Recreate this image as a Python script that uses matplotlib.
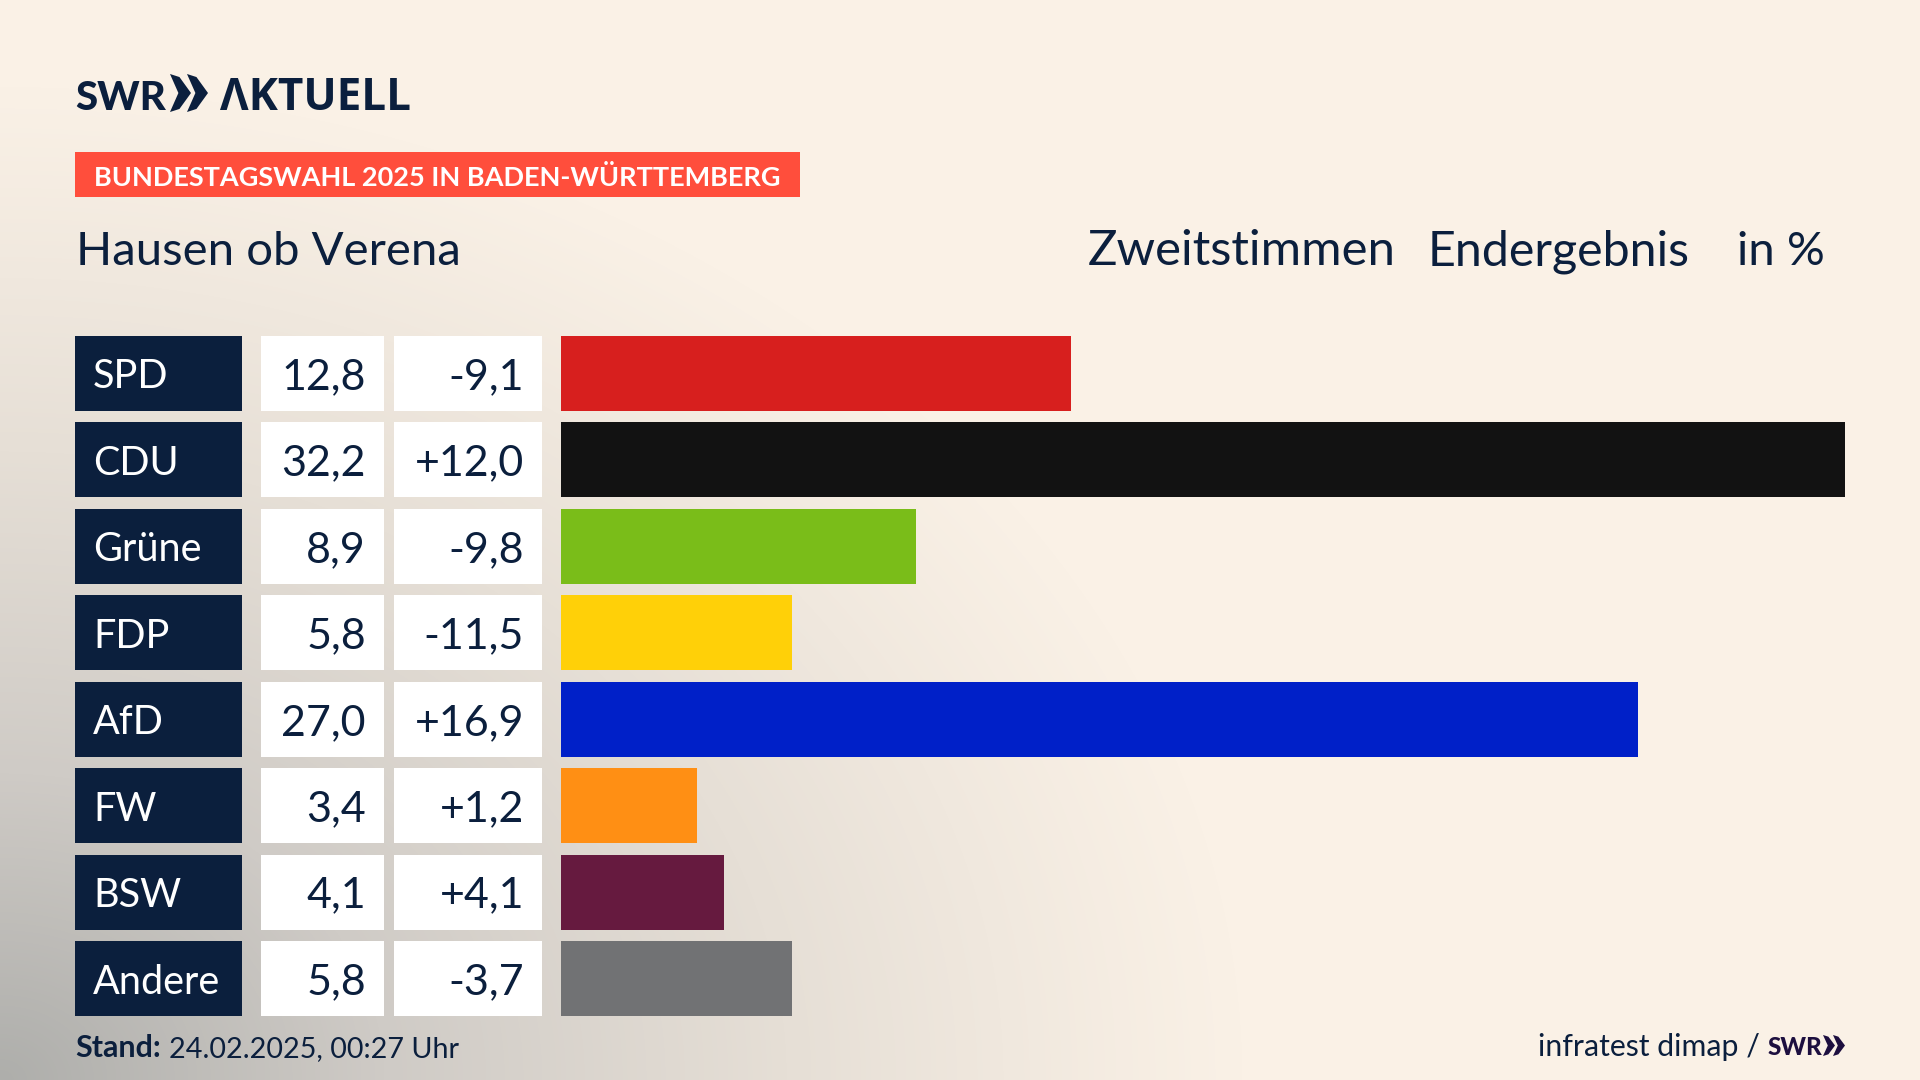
import numpy as np
import matplotlib
matplotlib.use('Agg')
import matplotlib.pyplot as plt
from matplotlib.colors import LinearSegmentedColormap
from matplotlib.patches import Polygon, Rectangle

plt.rcParams['font.family'] = ['Lato', 'DejaVu Sans']

parties = ['SPD', 'CDU', 'Grüne', 'FDP', 'AfD', 'FW', 'BSW', 'Andere']
shares = [12.8, 32.2, 8.9, 5.8, 27.0, 3.4, 4.1, 5.8]
changes = [-9.1, 12.0, -9.8, -11.5, 16.9, 1.2, 4.1, -3.7]
colors = ['#d71f1e', '#121212', '#7abd19', '#ffd008', '#0020c8', '#ff8f14', '#661a3f', '#717274']

NAVY = '#0b1f3d'
LOGO = ['Open Sans', 'DejaVu Sans']
W, H = 1920, 1080


def fmt(val, signed=False):
    s = ('%+.1f' if signed else '%.1f') % val
    return s.replace('.', ',')


def chevrons(ax, x, top, bottom, width, step, color):
    # the two arrows of the SWR logo
    mid = (top + bottom) / 2
    for k in range(2):
        x0 = x + k * step
        ax.add_patch(Polygon([(x0, top), (x0 + 0.45 * width, top + 0.08 * (bottom - top)), (x0 + width, mid),
                              (x0 + 0.45 * width, bottom - 0.08 * (bottom - top)), (x0, bottom),
                              (x0 + 0.4 * width, mid)], color=color, lw=0))


fig = plt.figure(figsize=(19.2, 10.8), dpi=100)

# background, cream with a grey corner at the lower left
bg = fig.add_axes([0, 0, 1, 1])
yy, xx = np.mgrid[0:H, 0:W]
dist = np.sqrt((xx / 1250.0) ** 2 + ((H - yy) / 1000.0) ** 2)
shade = np.clip(1 - dist, 0, 1) ** 1.1
cmap = LinearSegmentedColormap.from_list('bg', ['#faf1e6', '#e6dfd6', '#cfcbc6', '#aeaeab'])
bg.imshow(shade, cmap=cmap, vmin=0, vmax=1, extent=(0, W, H, 0), aspect='auto')
bg.set_xlim(0, W)
bg.set_ylim(H, 0)
bg.axis('off')

# logo
bg.text(75, 110, 'SWR', fontsize=29, fontweight='black', color=NAVY, va='baseline', ha='left')
chevrons(bg, 170, 74, 112, 21, 17, NAVY)
bg.text(220, 110, 'ΛKTUELL', fontsize=31.7, fontweight='bold', color=NAVY, va='baseline', ha='left', family=LOGO)

# banner and headers
bg.add_patch(Rectangle((75, 152), 725, 45, color='#ff4e3c', lw=0))
bg.text(94, 175, 'BUNDESTAGSWAHL 2025 IN BADEN-WÜRTTEMBERG', fontsize=19.5, fontweight='bold',
        color='white', va='center_baseline', ha='left')
bg.text(76, 265, 'Hausen ob Verena', fontsize=34, color=NAVY, va='baseline', ha='left')
bg.text(1088, 265, 'Zweitstimmen', fontsize=35.4, color=NAVY, va='baseline', ha='left')
bg.text(1428, 265, 'Endergebnis', fontsize=34.8, color=NAVY, va='baseline', ha='left')
bg.text(1825, 265, 'in %', fontsize=34, color=NAVY, va='baseline', ha='right')

# table on the left, same rows as the bars
rows = np.arange(len(parties))
bar_h = 75 / 86.43
ylim = (rows[-1] + bar_h / 2, -bar_h / 2)
tab = fig.add_axes([0, (H - 1016) / H, 561 / W, 680 / H])
tab.set_xlim(0, 561)
tab.set_ylim(*ylim)
tab.axis('off')
tab.barh(rows, [167.5] * 8, left=75, height=bar_h, color=NAVY)
tab.barh(rows, [123] * 8, left=261, height=bar_h, color='white')
tab.barh(rows, [148] * 8, left=394, height=bar_h, color='white')
for i in rows:
    tab.text(93, i, parties[i], fontsize=28.5, color='white', va='center_baseline', ha='left')
    tab.text(366, i, fmt(shares[i]), fontsize=31, color=NAVY, va='center_baseline', ha='right')
    tab.text(524, i, fmt(changes[i], True), fontsize=31, color=NAVY, va='center_baseline', ha='right')

# bars
ax = fig.add_axes([561 / W, (H - 1016) / H, (1845 - 561) / W, 680 / H])
ax.barh(rows, shares, height=bar_h, color=colors)
ax.set_xlim(0, 32.2)
ax.set_ylim(*ylim)
ax.axis('off')

# footer
bg.text(75, 1057, 'Stand:', fontsize=22, fontweight='bold', color=NAVY, va='baseline', ha='left')
bg.text(169, 1057, '24.02.2025, 00:27 Uhr', fontsize=20.7, color=NAVY, va='baseline', ha='left')
bg.text(1760, 1056, 'infratest dimap /', fontsize=21.8, color=NAVY, va='baseline', ha='right')
bg.text(1768, 1055, 'SWR', fontsize=17.5, fontweight='black', color='#1d0f3f', va='baseline', ha='left')
chevrons(bg, 1823, 1035, 1056, 12, 10, '#1d0f3f')

fig.savefig('out.png', dpi=100)
